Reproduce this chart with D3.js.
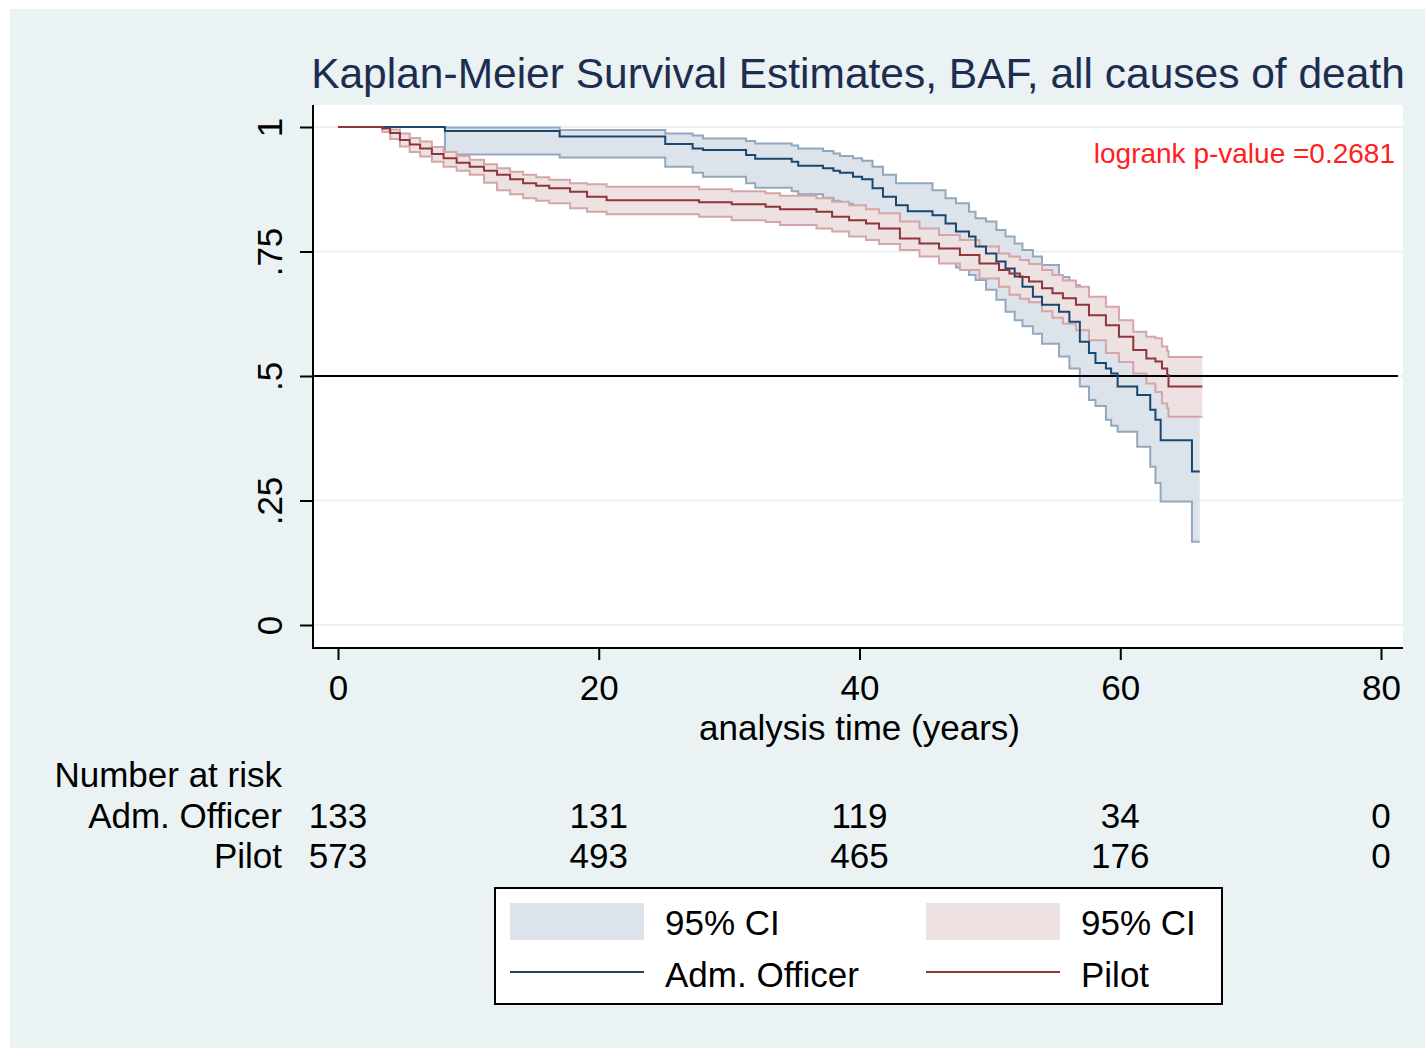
<!DOCTYPE html>
<html>
<head>
<meta charset="utf-8">
<script src="https://cdn.jsdelivr.net/npm/d3@7"></script>
<style>
  body { margin: 0; background: #fff; }
  text { font-family: "Liberation Sans", Arial, sans-serif; }
</style>
</head>
<body>
<svg id="km" width="1425" height="1048"></svg>
<script>
// [time, survival, lower 95% CI, upper 95% CI], each row holds until the next
const adminKM = [
  [0, 1, 1, 1],
  [8.2, 0.992, 0.945, 0.999],
  [17.0, 0.981, 0.939, 0.994],
  [25.1, 0.966, 0.920, 0.987],
  [27.2, 0.957, 0.908, 0.983],
  [28.0, 0.954, 0.900, 0.977],
  [31.3, 0.944, 0.887, 0.972],
  [32.0, 0.936, 0.878, 0.967],
  [34.8, 0.930, 0.871, 0.963],
  [35.3, 0.922, 0.865, 0.957],
  [37.2, 0.917, 0.858, 0.952],
  [38.0, 0.912, 0.852, 0.947],
  [38.5, 0.908, 0.846, 0.942],
  [39.5, 0.900, 0.838, 0.937],
  [40.2, 0.895, 0.832, 0.932],
  [41.0, 0.877, 0.812, 0.920],
  [41.8, 0.860, 0.793, 0.904],
  [42.8, 0.843, 0.775, 0.887],
  [43.7, 0.831, 0.762, 0.887],
  [45.6, 0.823, 0.752, 0.873],
  [46.6, 0.806, 0.735, 0.857],
  [47.4, 0.790, 0.718, 0.847],
  [48.4, 0.780, 0.703, 0.830],
  [48.9, 0.760, 0.693, 0.817],
  [49.7, 0.746, 0.673, 0.810],
  [50.5, 0.730, 0.653, 0.793],
  [51.2, 0.716, 0.629, 0.780],
  [51.9, 0.700, 0.612, 0.766],
  [52.5, 0.679, 0.600, 0.753],
  [53.3, 0.659, 0.585, 0.740],
  [54.0, 0.643, 0.565, 0.723],
  [55.3, 0.629, 0.539, 0.699],
  [56.1, 0.609, 0.515, 0.682],
  [56.9, 0.569, 0.479, 0.662],
  [57.6, 0.546, 0.452, 0.645],
  [58.1, 0.526, 0.440, 0.633],
  [58.9, 0.515, 0.412, 0.612],
  [59.3, 0.505, 0.400, 0.600],
  [59.8, 0.479, 0.388, 0.585],
  [61.3, 0.462, 0.358, 0.565],
  [62.3, 0.432, 0.318, 0.545],
  [62.7, 0.412, 0.285, 0.530],
  [63.1, 0.371, 0.248, 0.500],
  [65.5, 0.308, 0.167, 0.470]
];
const adminEnd = 66.1;

const pilotKM = [
  [0, 1, 1, 1],
  [3.4, 0.997, 0.990, 1.0],
  [4.0, 0.988, 0.976, 0.995],
  [4.75, 0.974, 0.961, 0.987],
  [5.5, 0.965, 0.950, 0.978],
  [6.3, 0.957, 0.941, 0.971],
  [7.2, 0.946, 0.930, 0.960],
  [8.1, 0.937, 0.920, 0.950],
  [9.1, 0.928, 0.912, 0.942],
  [10.1, 0.920, 0.904, 0.934],
  [11.2, 0.912, 0.888, 0.925],
  [12.2, 0.904, 0.873, 0.917],
  [13.2, 0.895, 0.865, 0.910],
  [14.2, 0.887, 0.857, 0.904],
  [15.2, 0.882, 0.852, 0.899],
  [16.2, 0.877, 0.847, 0.894],
  [17.8, 0.870, 0.837, 0.887],
  [19.1, 0.860, 0.830, 0.885],
  [20.6, 0.853, 0.825, 0.880],
  [27.7, 0.849, 0.820, 0.875],
  [30.2, 0.845, 0.813, 0.871],
  [32.8, 0.840, 0.809, 0.867],
  [33.9, 0.835, 0.803, 0.862],
  [36.7, 0.830, 0.796, 0.857],
  [37.9, 0.820, 0.790, 0.850],
  [39.2, 0.813, 0.780, 0.843],
  [40.5, 0.806, 0.773, 0.835],
  [41.5, 0.796, 0.765, 0.827],
  [43.1, 0.776, 0.753, 0.810],
  [44.6, 0.766, 0.740, 0.796],
  [46.1, 0.756, 0.726, 0.783],
  [47.7, 0.743, 0.713, 0.773],
  [49.2, 0.726, 0.696, 0.760],
  [50.7, 0.713, 0.679, 0.746],
  [51.5, 0.706, 0.663, 0.740],
  [52.3, 0.699, 0.655, 0.733],
  [53.0, 0.690, 0.648, 0.725],
  [54.0, 0.676, 0.630, 0.713],
  [54.8, 0.666, 0.617, 0.703],
  [55.6, 0.656, 0.605, 0.692],
  [56.6, 0.643, 0.592, 0.679],
  [57.6, 0.622, 0.572, 0.659],
  [58.9, 0.602, 0.546, 0.639],
  [59.9, 0.579, 0.528, 0.612],
  [61.0, 0.552, 0.505, 0.589],
  [62.0, 0.535, 0.485, 0.579],
  [62.7, 0.529, 0.468, 0.576],
  [63.2, 0.515, 0.445, 0.559],
  [63.6, 0.502, 0.435, 0.550],
  [63.7, 0.479, 0.418, 0.538]
];
const pilotEnd = 66.3;

const xTicks = [0, 20, 40, 60, 80];
const yTicks = [0, 0.25, 0.5, 0.75, 1];
const yTickLabels = ["0", ".25", ".5", ".75", "1"];
const riskGroups = ["Adm. Officer", "Pilot"];
const riskAdmin = [133, 131, 119, 34, 0];
const riskPilot = [573, 493, 465, 176, 0];

const navy = "#1a476f";
const maroon = "#90353b";
const bgColor = "#eaf2f3";

const svg = d3.select("#km");

// outer background and plot region
svg.append("rect").attr("x", 10).attr("y", 9).attr("width", 1415).attr("height", 1039).attr("fill", bgColor);
const plot = { left: 313, right: 1403, top: 105, bottom: 648 };
svg.append("rect")
  .attr("x", plot.left).attr("y", plot.top)
  .attr("width", plot.right - plot.left).attr("height", plot.bottom - plot.top)
  .attr("fill", "#fff");

const x = d3.scaleLinear().domain([0, 80]).range([338, 1381]);
const y = d3.scaleLinear().domain([0, 1]).range([625, 127]);

// grid
svg.selectAll(".grid").data(yTicks).enter().append("line")
  .attr("class", "grid")
  .attr("x1", plot.left).attr("x2", plot.right)
  .attr("y1", d => y(d)).attr("y2", d => y(d))
  .attr("stroke", bgColor).attr("stroke-width", 2);

function withEnd(rows, end) {
  const last = rows[rows.length - 1];
  return rows.concat([[end, last[1], last[2], last[3]]]);
}
// band fill and outline are opaque: the later band hides the earlier one
const series = [
  { rows: withEnd(adminKM, adminEnd), color: navy, band: "#dde3ea", edge: "#93a8bc" },
  { rows: withEnd(pilotKM, pilotEnd), color: maroon, band: "#eee1e2", edge: "#d4a6a9" }
];

const area = d3.area().curve(d3.curveStepAfter)
  .x(d => x(d[0])).y0(d => y(d[2])).y1(d => y(d[3]));
const lineOf = i => d3.line().curve(d3.curveStepAfter)
  .x(d => x(d[0])).y(d => y(d[i]));

// confidence bands
series.forEach(s => {
  svg.append("path").attr("d", area(s.rows)).attr("fill", s.band);
  [2, 3].forEach(i => {
    svg.append("path").attr("d", lineOf(i)(s.rows))
      .attr("fill", "none").attr("stroke", s.edge).attr("stroke-width", 2);
  });
});

// median reference line
svg.append("line")
  .attr("x1", plot.left).attr("x2", 1398)
  .attr("y1", y(0.5)).attr("y2", y(0.5))
  .attr("stroke", "#000").attr("stroke-width", 2);

// survival curves
series.forEach(s => {
  svg.append("path").attr("d", lineOf(1)(s.rows))
    .attr("fill", "none").attr("stroke", s.color).attr("stroke-width", 2);
});

// axes
const yAxis = svg.append("g").attr("transform", `translate(${plot.left},0)`)
  .call(d3.axisLeft(y).tickValues(yTicks).tickFormat((d, i) => yTickLabels[i]).tickSize(13).tickSizeOuter(0));
const xAxis = svg.append("g").attr("transform", `translate(0,${plot.bottom})`)
  .call(d3.axisBottom(x).tickValues(xTicks).tickSize(12).tickSizeOuter(0));
[yAxis, xAxis].forEach(a => {
  a.select(".domain").remove();
  a.selectAll(".tick line").attr("stroke", "#000").attr("stroke-width", 2);
  a.selectAll(".tick text").attr("font-size", 35).attr("fill", "#000")
    .attr("font-family", "Liberation Sans, Arial, sans-serif");
});
yAxis.selectAll(".tick text")
  .attr("transform", "rotate(-90)")
  .attr("x", 0).attr("y", -31).attr("dy", null)
  .attr("text-anchor", "middle");
xAxis.selectAll(".tick text").attr("y", 52).attr("dy", null);

svg.append("line").attr("x1", plot.left).attr("x2", plot.left)
  .attr("y1", plot.top).attr("y2", plot.bottom + 1)
  .attr("stroke", "#000").attr("stroke-width", 2);
svg.append("line").attr("x1", plot.left - 1).attr("x2", plot.right)
  .attr("y1", plot.bottom).attr("y2", plot.bottom)
  .attr("stroke", "#000").attr("stroke-width", 2);

// titles
svg.append("text").attr("x", (plot.left + plot.right) / 2).attr("y", 88)
  .attr("text-anchor", "middle").attr("font-size", 42.5).attr("fill", "#1c2d50")
  .text("Kaplan-Meier Survival Estimates, BAF, all causes of death");
svg.append("text").attr("x", x(40)).attr("y", 740)
  .attr("text-anchor", "middle").attr("font-size", 35).attr("fill", "#000")
  .text("analysis time (years)");
svg.append("text").attr("x", 1395).attr("y", 163)
  .attr("text-anchor", "end").attr("font-size", 28).attr("fill", "#ff2020")
  .text("logrank p-value =0.2681");

// number at risk table
svg.append("text").attr("x", 282).attr("y", 787)
  .attr("text-anchor", "end").attr("font-size", 35).text("Number at risk");
[riskAdmin, riskPilot].forEach((counts, r) => {
  const yy = 828 + r * 40;
  svg.append("text").attr("x", 282).attr("y", yy)
    .attr("text-anchor", "end").attr("font-size", 35).text(riskGroups[r]);
  svg.selectAll(null).data(counts).enter().append("text")
    .attr("x", (d, i) => x(xTicks[i])).attr("y", yy)
    .attr("text-anchor", "middle").attr("font-size", 35)
    .text(d => d);
});

// legend
const lg = svg.append("g");
lg.append("rect").attr("x", 495).attr("y", 888).attr("width", 727).attr("height", 116)
  .attr("fill", "#fff").attr("stroke", "#000").attr("stroke-width", 2);
const legendCols = [
  { x: 510, color: navy, band: series[0].band, label: "Adm. Officer" },
  { x: 926, color: maroon, band: series[1].band, label: "Pilot" }
];
legendCols.forEach(c => {
  lg.append("rect").attr("x", c.x).attr("y", 903).attr("width", 134).attr("height", 37)
    .attr("fill", c.band);
  lg.append("text").attr("x", c.x + 155).attr("y", 935).attr("font-size", 35).text("95% CI");
  lg.append("line").attr("x1", c.x).attr("x2", c.x + 134).attr("y1", 972).attr("y2", 972)
    .attr("stroke", c.color).attr("stroke-width", 2);
  lg.append("text").attr("x", c.x + 155).attr("y", 987).attr("font-size", 35).text(c.label);
});
</script>
</body>
</html>
